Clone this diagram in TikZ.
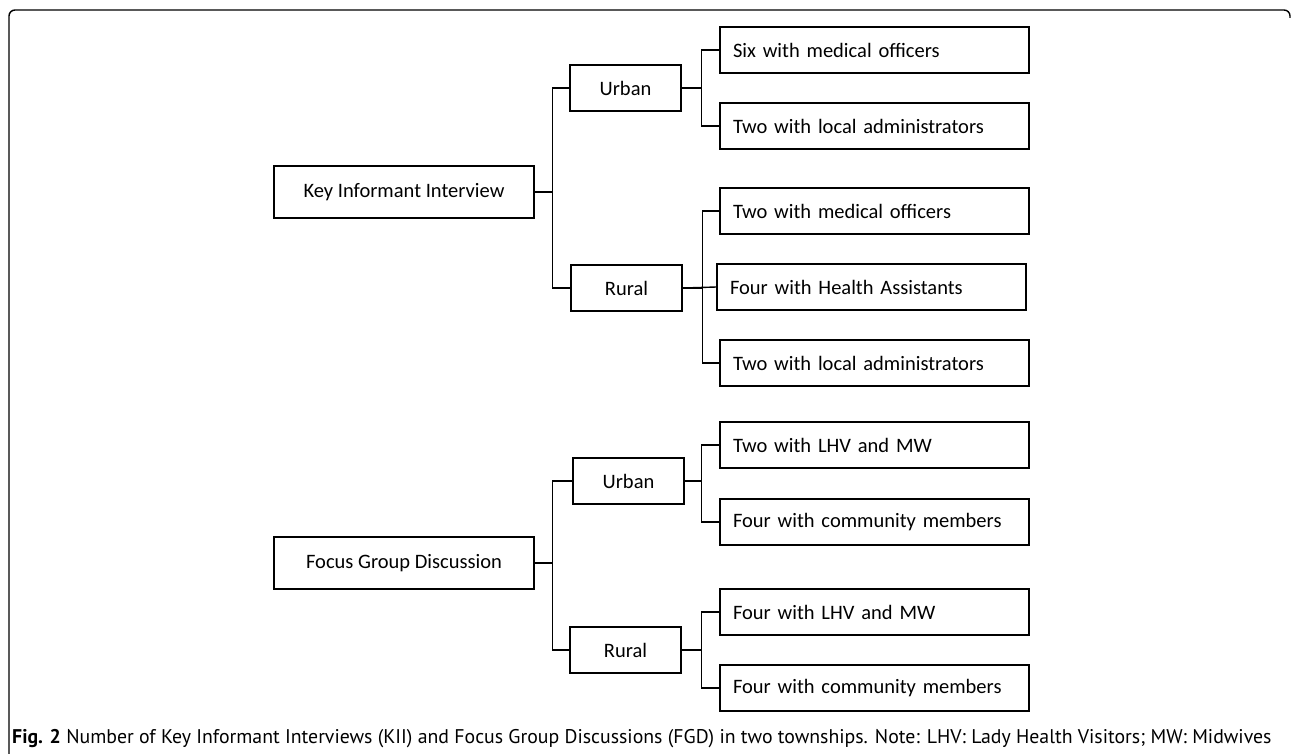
\documentclass[tikz,border=0pt]{standalone}
\usepackage{fontspec}
\setmainfont{Carlito}
\newfontfamily\captionfont{PT Sans}

\begin{document}
\begin{tikzpicture}[
    x=1pt, y=-1pt,
    % Define box styles
    box/.style={draw, line width=1.4pt, inner sep=0pt, font=\fontsize{20.5}{24}\selectfont},
    root/.style={box, minimum width=260pt, minimum height=52pt},
    branch/.style={box, minimum width=111pt, minimum height=46pt},
    leaf/.style={box, minimum width=309pt, minimum height=46pt, text width=283pt, align=left},
    % Define connector style
    link/.style={line width=1.4pt}
]

% Common horizontal offsets of the trunks
\def\rootgap{18}
\def\branchgap{20}

\useasboundingbox (0,0) rectangle (1292,754);

% Frame round the figure
\draw[line width=1.4pt, rounded corners=6pt] (9,754) -- (9,10) -- (1290,10) -- (1290,18);

% Part 1: Key Informant Interview
\node[root] (kii) at (404,192) {Key Informant Interview};
\node[branch] (kiiurban) at (625.5,88) {Urban};
\node[branch] (kiirural) at (626.5,288) {Rural};
\node[leaf] (kiiu1) at (874.5,50) {Six with medical officers};
\node[leaf] (kiiu2) at (874.5,126) {Two with local administrators};
\node[leaf] (kiir1) at (874.5,211) {Two with medical officers};
\node[leaf] (kiir2) at (871.5,287) {Four with Health Assistants};
\node[leaf] (kiir3) at (874.5,363) {Two with local administrators};

\draw[link] (kii.east) -- ++(\rootgap,0) |- (kiiurban.west);
\draw[link] (kii.east) -- ++(\rootgap,0) |- (kiirural.west);
\draw[link] (kiiurban.east) -- ++(\branchgap,0) |- (kiiu1.west);
\draw[link] (kiiurban.east) -- ++(\branchgap,0) |- (kiiu2.west);
\draw[link] (kiirural.east) -- ++(\branchgap,0) |- (kiir1.west);
\draw[link] (kiirural.east) -- (kiir2.west);
\draw[link] (kiirural.east) -- ++(\branchgap,0) |- (kiir3.west);

% Part 2: Focus Group Discussion
\node[root] (fgd) at (404,563) {Focus Group Discussion};
\node[branch] (fgdurban) at (628.5,481) {Urban};
\node[branch] (fgdrural) at (625.5,650) {Rural};
\node[leaf] (fgdu1) at (874.5,445) {Two with LHV and MW};
\node[leaf] (fgdu2) at (874.5,522) {Four with community members};
\node[leaf] (fgdr1) at (874.5,612) {Four with LHV and MW};
\node[leaf] (fgdr2) at (874.5,688) {Four with community members};

\draw[link] (fgd.east) -- ++(\rootgap,0) |- (fgdurban.west);
\draw[link] (fgd.east) -- ++(\rootgap,0) |- (fgdrural.west);
\draw[link] (fgdurban.east) -- ++(17,0) |- (fgdu1.west);
\draw[link] (fgdurban.east) -- ++(17,0) |- (fgdu2.west);
\draw[link] (fgdrural.east) -- ++(\branchgap,0) |- (fgdr1.west);
\draw[link] (fgdrural.east) -- ++(\branchgap,0) |- (fgdr2.west);

% Caption below the figure
\node[anchor=west, inner sep=0pt, font=\captionfont\fontsize{19.8}{22}\selectfont] (caption) at (12,739)
    {\textbf{Fig. 2} Number of Key Informant Interviews (KII) and Focus Group Discussions (FGD) in two townships. Note: LHV: Lady Health Visitors; MW: Midwives};

\end{tikzpicture}
\end{document}
